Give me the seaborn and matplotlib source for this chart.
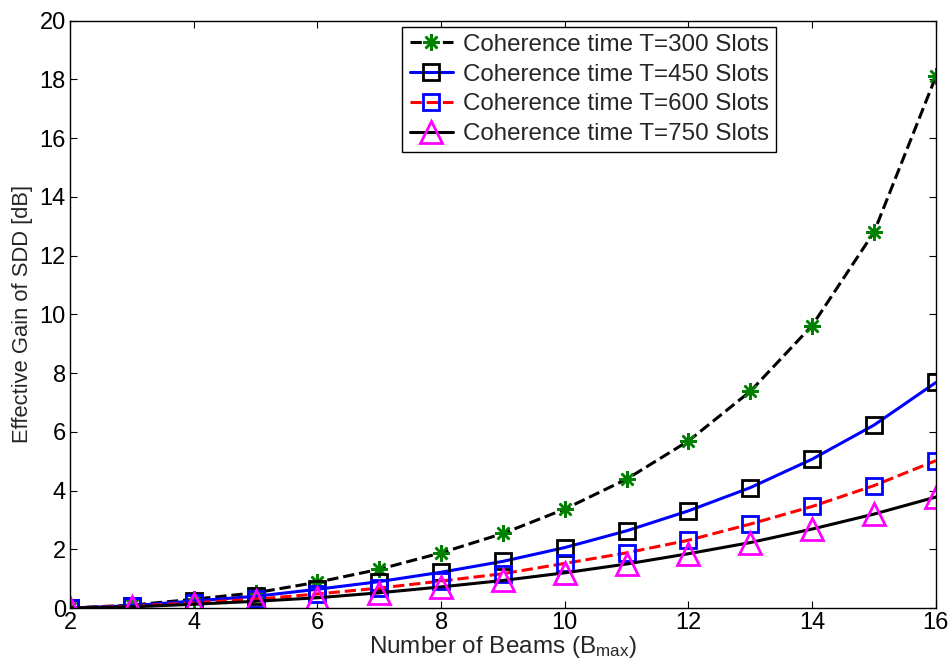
import matplotlib
matplotlib.use("Agg")
import matplotlib.pyplot as plt
import seaborn as sns
import numpy as np

beams = [2, 3, 4, 5, 6, 7, 8, 9, 10, 11, 12, 13, 14, 15, 16]
gain_t300 = [0.0, 0.1, 0.3, 0.52, 0.88, 1.32, 1.88, 2.54, 3.37, 4.39, 5.69, 7.38, 9.62, 12.8, 18.1]
gain_t450 = [0.0, 0.08, 0.24, 0.4, 0.64, 0.9, 1.22, 1.59, 2.06, 2.63, 3.31, 4.1, 5.07, 6.23, 7.68]
gain_t600 = [0.0, 0.06, 0.18, 0.3, 0.48, 0.68, 0.92, 1.17, 1.52, 1.88, 2.31, 2.86, 3.46, 4.17, 5.02]
gain_t750 = [0.0, 0.04, 0.13, 0.23, 0.35, 0.52, 0.72, 0.94, 1.2, 1.5, 1.85, 2.23, 2.69, 3.2, 3.78]
labels = ["Coherence time T=300 Slots", "Coherence time T=450 Slots",
          "Coherence time T=600 Slots", "Coherence time T=750 Slots"]

sns.set_theme(style="white")
plt.rcParams['font.family'] = ['Liberation Sans', 'DejaVu Sans']
plt.rcParams['mathtext.fontset'] = 'custom'
plt.rcParams['mathtext.rm'] = 'Liberation Sans'
plt.rcParams['mathtext.it'] = 'Liberation Sans'

fig = plt.figure(figsize=(9.51, 6.66), dpi=100)
ax = fig.add_axes([0.0736, 0.087, 0.9105, 0.882])

styles = [
    dict(color='black', linestyle='--', marker=(8, 2, 0), markersize=12, markerfacecolor='green',
         markeredgecolor='green', markeredgewidth=1.8),
    dict(color='blue', linestyle='-', marker='s', markersize=11, markerfacecolor='none',
         markeredgecolor='black', markeredgewidth=2),
    dict(color='red', linestyle='--', marker='s', markersize=11, markerfacecolor='none',
         markeredgecolor='blue', markeredgewidth=2),
    dict(color='black', linestyle='-', marker='^', markersize=16, markerfacecolor='none',
         markeredgecolor='magenta', markeredgewidth=2),
]
series = [gain_t300, gain_t450, gain_t600, gain_t750]
for ys, lab, st in zip(series, labels, styles):
    sns.lineplot(x=beams, y=ys, ax=ax, label=lab, linewidth=2.2, **st)

ax.set_xlim(2, 16)
ax.set_ylim(0, 20)
ax.set_xticks(range(2, 17, 2))
ax.set_yticks(range(0, 21, 2))
ax.tick_params(direction='in', length=5, width=0.8, labelsize=17, top=True, right=True,
               bottom=True, left=True, colors='black', pad=3)
for sp in ax.spines.values():
    sp.set_color('black')
    sp.set_linewidth(1.0)
ax.set_xlabel('Number of Beams (B$_{\\mathrm{max}}$)', fontsize=17.5, labelpad=0)
ax.set_ylabel('Effective Gain of SDD [dB]', fontsize=15.8, labelpad=5)

leg = ax.legend(loc='upper left', bbox_to_anchor=(0.384, 0.99), fontsize=17.4, frameon=True,
                fancybox=False, edgecolor='black', framealpha=1, handlelength=1.8,
                handletextpad=0.4, borderpad=0.3, labelspacing=0.32, borderaxespad=0)
leg.get_frame().set_linewidth(1.0)

fig.savefig('out.png', dpi=100)
